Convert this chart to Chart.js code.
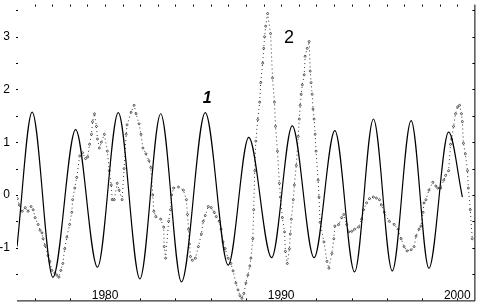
<!DOCTYPE html>
<html>
<head>
<meta charset="utf-8">
<script src="https://cdn.jsdelivr.net/npm/chart.js@4.4.1/dist/chart.umd.min.js"></script>
<style>
  html, body { margin: 0; padding: 0; background: #fff; }
</style>
</head>
<body>
<canvas id="chart" width="480" height="305"></canvas>
<script>
// curve 1: smooth oscillation, read at its peaks and troughs
var s1Years = [1975.00, 1975.86, 1977.04, 1978.33, 1979.57, 1980.75, 1981.98, 1983.16, 1984.34, 1985.69,
  1986.99, 1988.16, 1989.46, 1990.63, 1991.87, 1993.05, 1994.17, 1995.24, 1996.31, 1997.38,
  1998.39, 1999.51, 2000.29];
var s1Values = [-0.98, 1.57, -1.56, 1.24, -1.37, 1.56, -1.59, 1.54, -1.65, 1.56,
  -1.33, 1.09, -1.19, 1.31, -1.19, 1.22, -1.46, 1.44, -1.44, 1.41,
  -1.39, 1.19, -0.04];

// curve 2: dotted observed series
var s2Years = [1975.02, 1975.13, 1975.30, 1975.47, 1975.63, 1975.80, 1975.92, 1976.03, 1976.20, 1976.31,
  1976.42, 1976.48, 1976.59, 1976.76, 1976.87, 1976.98, 1977.15, 1977.26, 1977.38, 1977.49,
  1977.60, 1977.71, 1977.83, 1977.99, 1978.11, 1978.16, 1978.28, 1978.39, 1978.56, 1978.72,
  1978.89, 1979.01, 1979.12, 1979.23, 1979.29, 1979.40, 1979.51, 1979.57, 1979.68, 1979.79,
  1979.96, 1980.13, 1980.24, 1980.35, 1980.41, 1980.52, 1980.69, 1980.80, 1980.97, 1981.08,
  1981.20, 1981.25, 1981.48, 1981.65, 1981.76, 1981.93, 1982.04, 1982.15, 1982.32, 1982.49,
  1982.60, 1982.71, 1982.77, 1982.88, 1983.16, 1983.33, 1983.36, 1983.44, 1983.61, 1983.72,
  1983.78, 1983.89, 1984.17, 1984.45, 1984.62, 1984.68, 1984.74, 1984.79, 1984.85, 1984.96,
  1985.13, 1985.30, 1985.47, 1985.58, 1985.69, 1985.86, 1986.03, 1986.20, 1986.31, 1986.48,
  1986.59, 1986.70, 1986.82, 1986.99, 1987.15, 1987.27, 1987.43, 1987.55, 1987.66, 1987.77,
  1987.88, 1988.00, 1988.11, 1988.22, 1988.28, 1988.39, 1988.44, 1988.50, 1988.56, 1988.67,
  1988.78, 1988.84, 1988.95, 1989.01, 1989.06, 1989.12, 1989.23, 1989.40, 1989.51, 1989.62,
  1989.68, 1989.79, 1989.90, 1989.96, 1990.07, 1990.19, 1990.24, 1990.35, 1990.47, 1990.52,
  1990.58, 1990.69, 1990.75, 1990.86, 1990.97, 1991.03, 1991.08, 1991.14, 1991.20, 1991.31,
  1991.36, 1991.48, 1991.59, 1991.65, 1991.70, 1991.76, 1991.81, 1991.87, 1991.93, 1991.98,
  1992.10, 1992.15, 1992.21, 1992.43, 1992.60, 1992.71, 1992.88, 1992.99, 1993.05, 1993.27,
  1993.44, 1993.56, 1993.72, 1993.84, 1994.01, 1994.17, 1994.40, 1994.57, 1994.68, 1994.85,
  1995.02, 1995.24, 1995.41, 1995.58, 1995.69, 1995.86, 1996.14, 1996.42, 1996.64, 1996.81,
  1996.98, 1997.15, 1997.38, 1997.55, 1997.66, 1997.83, 1997.94, 1998.06, 1998.11, 1998.22,
  1998.39, 1998.61, 1998.78, 1998.89, 1999.06, 1999.23, 1999.34, 1999.51, 1999.62, 1999.68,
  1999.79, 1999.90, 2000.02, 2000.13, 2000.24, 2000.29, 2000.35, 2000.46, 2000.58, 2000.63,
  2000.74, 2000.85];
var s2Values = [-0.07, -0.19, -0.31, -0.24, -0.31, -0.22, -0.28, -0.43, -0.56, -0.67,
  -0.72, -0.83, -0.96, -1.15, -1.26, -1.43, -1.48, -1.52, -1.56, -1.43,
  -1.30, -1.02, -0.80, -0.56, -0.33, -0.09, 0.13, 0.33, 0.74, 0.80,
  0.69, 0.72, 0.96, 1.15, 1.39, 1.54, 1.30, 1.06, 0.89, 1.00,
  1.15, 0.83, 0.46, 0.19, -0.09, -0.09, 0.22, 0.09, -0.09, 0.50,
  1.15, 1.33, 1.57, 1.70, 1.54, 1.35, 1.15, 0.89, 0.78, 0.65,
  0.52, 0.00, -0.31, -0.41, -0.46, -0.61, -0.98, -1.20, -0.50, -0.28,
  0.00, 0.13, 0.15, 0.09, -0.09, -0.37, -0.65, -0.93, -1.17, -1.24,
  -1.20, -0.98, -0.74, -0.50, -0.39, -0.22, -0.24, -0.33, -0.41, -0.50,
  -0.65, -0.89, -1.02, -1.20, -1.30, -1.44, -1.67, -1.80, -1.91, -1.96,
  -1.87, -1.67, -1.52, -1.35, -1.20, -0.83, -0.28, 0.46, 1.02, 1.43,
  1.76, 2.13, 2.50, 2.78, 3.00, 3.20, 3.44, 3.06, 2.22, 1.76,
  1.30, 0.83, 0.22, -0.04, -0.43, -0.70, -1.07, -1.30, -1.02, -0.74,
  -0.46, -0.09, 0.19, 0.56, 1.11, 1.44, 1.70, 1.91, 2.09, 2.28,
  2.63, 2.78, 2.91, 2.35, 2.13, 1.91, 1.63, 1.44, 1.15, 0.83,
  0.28, -0.04, -0.52, -0.89, -1.26, -1.39, -1.11, -0.83, -0.59, -0.56,
  -0.43, -0.37, -0.56, -0.70, -0.69, -0.65, -0.61, -0.46, -0.28, -0.15,
  -0.07, -0.04, -0.06, -0.09, -0.19, -0.33, -0.50, -0.56, -0.65, -0.83,
  -0.98, -1.06, -1.04, -0.98, -0.78, -0.65, -0.59, -0.33, -0.15, -0.09,
  0.09, 0.24, 0.17, 0.13, 0.13, 0.28, 0.37, 0.46, 0.96, 1.06,
  1.30, 1.54, 1.67, 1.70, 1.54, 1.39, 0.98, 0.78, 0.46, 0.13,
  -0.28, -0.83];

var xLabels = [1980, 1990, 2000];
var yLabels = [-1, 0, 1, 2, 3];
var curveNames = ['1', '2'];

function pts(xs, ys) {
  return xs.map(function (x, i) { return { x: x, y: ys[i] }; });
}

// frame: right/bottom lines plus small inward tick marks, curve numbers
var framePlugin = {
  id: 'frame',
  afterDraw: function (chart) {
    var ctx = chart.ctx, a = chart.chartArea;
    var xs = chart.scales.x, ys = chart.scales.y;
    ctx.save();
    ctx.strokeStyle = '#000';
    ctx.lineWidth = 1;
    ctx.beginPath();
    ctx.moveTo(a.left, a.bottom + 0.5);
    ctx.lineTo(a.right - 0.5, a.bottom + 0.5);
    ctx.lineTo(a.right - 0.5, a.top);
    for (var yr = 1976; yr <= 2000; yr++) {
      var px = Math.round(xs.getPixelForValue(yr)) + 0.5;
      ctx.moveTo(px, a.top);
      ctx.lineTo(px, a.top + 2);
      if (yr % 2 === 0) {
        ctx.moveTo(px, a.bottom);
        ctx.lineTo(px, a.bottom - 2);
      }
    }
    for (var v = -1.5; v <= 3.5; v += 0.5) {
      var py = Math.round(ys.getPixelForValue(v)) + 0.5;
      ctx.moveTo(a.left - 1, py);
      ctx.lineTo(a.left + 1, py);
      ctx.moveTo(a.right - 0.5, py);
      ctx.lineTo(a.right - 3, py);
    }
    ctx.stroke();

    ctx.fillStyle = '#000';
    ctx.textAlign = 'center';
    ctx.textBaseline = 'middle';
    ctx.font = 'italic bold 16px "Liberation Sans", Arial, sans-serif';
    ctx.fillText(curveNames[0], xs.getPixelForValue(1985.8), ys.getPixelForValue(1.82));
    ctx.font = '18px "Liberation Sans", Arial, sans-serif';
    ctx.fillText(curveNames[1], xs.getPixelForValue(1990.45), ys.getPixelForValue(2.98));
    ctx.restore();
  }
};

new Chart(document.getElementById('chart').getContext('2d'), {
  type: 'line',
  data: {
    datasets: [{
      label: curveNames[0],
      data: pts(s1Years, s1Values),
      borderColor: '#000',
      borderWidth: 1.2,
      pointRadius: 0,
      cubicInterpolationMode: 'monotone',
      fill: false
    }, {
      label: curveNames[1],
      data: pts(s2Years, s2Values),
      borderColor: '#000',
      borderWidth: 0.8,
      borderDash: [1, 3],
      pointRadius: 1,
      pointBorderWidth: 0.6,
      pointBorderColor: '#000',
      pointBackgroundColor: '#fff',
      tension: 0,
      fill: false
    }]
  },
  options: {
    responsive: false,
    animation: false,
    devicePixelRatio: 1,
    layout: { padding: { top: 0, right: 1, bottom: 0, left: 0 } },
    scales: {
      x: {
        type: 'linear',
        min: 1975,
        max: 2001.03,
        grid: { display: false, drawTicks: false },
        border: { display: false },
        ticks: {
          color: '#000', font: { size: 12 }, padding: -2, mirror: true, maxRotation: 0,
          callback: function (v) { return String(v); }
        },
        afterBuildTicks: function (s) { s.ticks = xLabels.map(function (v) { return { value: v }; }); },
        afterFit: function (s) { s.height = 2; s.paddingLeft = 0; s.paddingRight = 0; }
      },
      y: {
        min: -2.0,
        max: 3.61,
        grid: { display: false, drawTicks: false },
        border: { display: false },
        ticks: { color: '#000', font: { size: 12 }, padding: 7 },
        afterBuildTicks: function (s) { s.ticks = yLabels.map(function (v) { return { value: v }; }); },
        afterFit: function (s) { s.width = 17; s.paddingTop = 0; s.paddingBottom = 0; }
      }
    },
    plugins: {
      legend: { display: false },
      tooltip: { enabled: false }
    }
  },
  plugins: [framePlugin]
});
</script>
</body>
</html>
